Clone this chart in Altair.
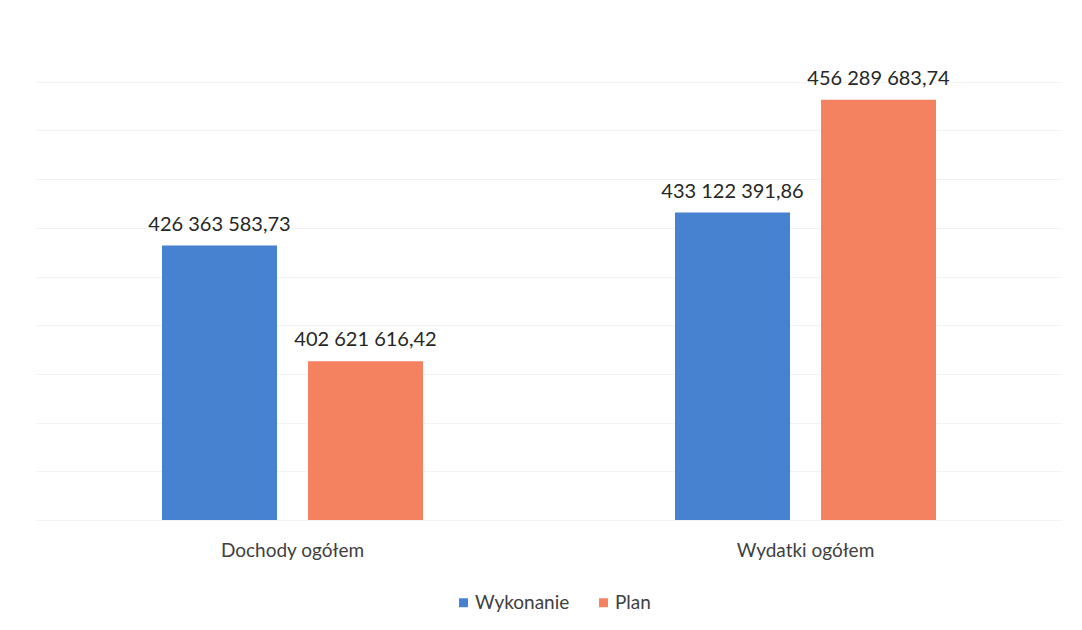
import altair as alt
import pandas as pd

categories = ["Dochody ogółem", "Wydatki ogółem"]
series = ["Wykonanie", "Plan"]
wykonanie = [426363583.73, 433122391.86]
plan = [402621616.42, 456289683.74]
colors = ["#4682d0", "#f4815f"]
y_min, y_max, y_step = 370_000_000, 470_000_000, 10_000_000


def fmt(v):
    return f"{v:,.2f}".replace(",", " ").replace(".", ",")


rows = []
for i, c in enumerate(categories):
    rows.append({"kat": c, "seria": "Wykonanie", "wartosc": wykonanie[i], "etykieta": fmt(wykonanie[i])})
    rows.append({"kat": c, "seria": "Plan", "wartosc": plan[i], "etykieta": fmt(plan[i])})
df = pd.DataFrame(rows)

FONT = "Lato"

base = alt.Chart(df).encode(
    x=alt.X(
        "kat:N",
        sort=categories,
        scale=alt.Scale(paddingInner=0, paddingOuter=0),
        axis=alt.Axis(
            title=None, labelAngle=0, ticks=False, domain=False,
            labelFontSize=19, labelFont=FONT, labelColor="#404040", labelPadding=21,
        ),
    ),
    xOffset=alt.XOffset("seria:N", sort=series, scale=alt.Scale(paddingInner=0.212, paddingOuter=0.863)),
    y=alt.Y(
        "wartosc:Q",
        scale=alt.Scale(domain=[y_min, y_max], zero=False, nice=False),
        axis=alt.Axis(
            title=None, labels=False, ticks=False, domain=False, grid=True,
            gridColor="#f3f3f3", values=list(range(y_min, y_max, y_step)),
        ),
    ),
)

bars = base.mark_bar(clip=True).encode(
    color=alt.Color(
        "seria:N",
        sort=series,
        scale=alt.Scale(domain=series, range=colors),
        legend=alt.Legend(
            title=None, orient="none", legendX=418, legendY=560, direction="horizontal",
            symbolType="square", symbolSize=80, labelFontSize=19, labelFont=FONT,
            labelColor="#404040", symbolStrokeWidth=0, columnPadding=24, labelOffset=2,
        ),
    )
)

labels = base.mark_text(baseline="alphabetic", dy=-15, fontSize=20, font=FONT, color="#262626").encode(
    text="etykieta:N"
)

chart = (
    alt.layer(bars, labels)
    .properties(
        width=1026, height=487, background="white",
        padding={"left": 28, "top": 25, "right": 5, "bottom": 5},
    )
    .configure_view(stroke=None, strokeWidth=0)
)

chart.save("out.html", embed_options={"renderer": "svg", "actions": False})
